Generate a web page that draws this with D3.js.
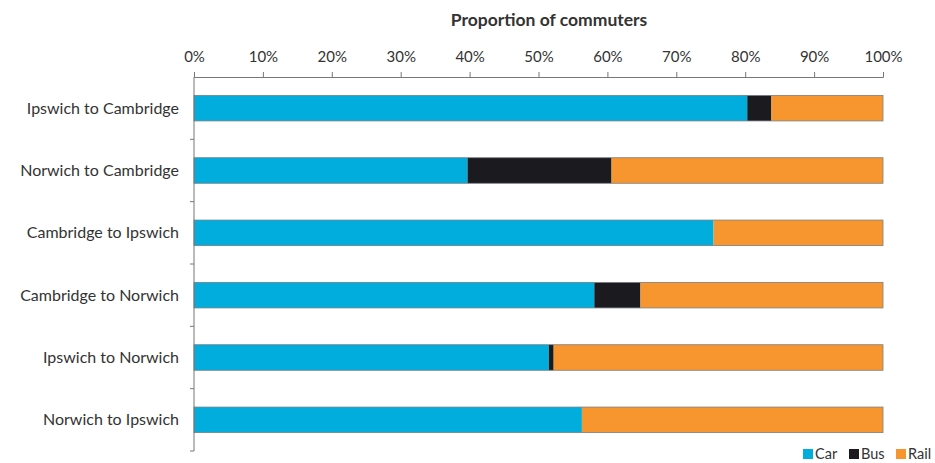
<!DOCTYPE html>
<html>
<head>
<meta charset="utf-8">
<script src="https://cdn.jsdelivr.net/npm/d3@7"></script>
<style>
  body { margin: 0; background: #fff; }
  text { font-family: Lato, 'Open Sans', sans-serif; fill: #333; }
</style>
</head>
<body>
<div id="chart"></div>
<script>
// Chart data
const routes = ['Ipswich to Cambridge', 'Norwich to Cambridge', 'Cambridge to Ipswich',
                'Cambridge to Norwich', 'Ipswich to Norwich', 'Norwich to Ipswich'];
const modes = ['Car', 'Bus', 'Rail'];
const carShare = [80.3, 39.7, 75.4, 58.1, 51.5, 56.3];
const busShare = [3.5, 20.9, 0, 6.7, 0.7, 0];
const railShare = [16.2, 39.4, 24.6, 35.2, 47.8, 43.7];
const tickValues = [0, 0.1, 0.2, 0.3, 0.4, 0.5, 0.6, 0.7, 0.8, 0.9, 1];

const width = 935, height = 463;
const margin = {top: 77, right: 52, bottom: 12, left: 194};
const colors = {Car: '#00addc', Bus: '#1b1b1f', Rail: '#f7962e'};

const rows = routes.map((r, i) => ({route: r, Car: carShare[i], Bus: busShare[i], Rail: railShare[i]}));
// normalise to proportions
rows.forEach(d => {
    const total = d.Car + d.Bus + d.Rail;
    modes.forEach(m => d[m] = d[m] / total);
});

const svg = d3.select('#chart')
    .append('svg')
    .attr('width', width)
    .attr('height', height);

const x = d3.scaleLinear()
    .domain([0, 1])
    .range([margin.left, width - margin.right]);

const y = d3.scaleBand()
    .domain(routes)
    .range([margin.top, height - margin.bottom])
    .paddingInner(0.59)
    .paddingOuter(0.295);

const stacked = d3.stack().keys(modes)(rows);

// Bars
svg.append('g')
    .selectAll('g')
    .data(stacked)
    .join('g')
    .attr('fill', d => colors[d.key])
    .selectAll('rect')
    .data(d => d)
    .join('rect')
    .attr('x', d => x(d[0]))
    .attr('y', d => y(d.data.route))
    .attr('width', d => x(d[1]) - x(d[0]))
    .attr('height', y.bandwidth());

// thin outline around each bar
svg.append('g')
    .selectAll('rect')
    .data(rows)
    .join('rect')
    .attr('x', x(0))
    .attr('y', d => y(d.route))
    .attr('width', x(1) - x(0))
    .attr('height', y.bandwidth())
    .attr('fill', 'none')
    .attr('stroke', '#7a7f86')
    .attr('stroke-width', 0.8);

// Top axis
const xAxis = svg.append('g')
    .attr('transform', `translate(0,${margin.top})`)
    .call(d3.axisTop(x).tickValues(tickValues).tickFormat(d3.format('.0%')).tickSize(5).tickPadding(10));
xAxis.select('.domain').attr('stroke', '#777');
xAxis.selectAll('.tick line').attr('stroke', '#777');
xAxis.selectAll('.tick text')
    .style('font-size', '15px')
    .attr('fill', '#333');

// Left axis, ticks between categories
const step = y.step();
const yTicks = d3.range(routes.length + 1).map(i => margin.top + i * step);
const yAxisG = svg.append('g');
yAxisG.append('line')
    .attr('x1', x(0)).attr('x2', x(0))
    .attr('y1', margin.top).attr('y2', height - margin.bottom)
    .attr('stroke', '#777');
yAxisG.selectAll('.ytick')
    .data(yTicks.slice(1))
    .join('line')
    .attr('class', 'ytick')
    .attr('x1', x(0) - 4).attr('x2', x(0))
    .attr('y1', d => d).attr('y2', d => d)
    .attr('stroke', '#777');

// Category labels
svg.append('g')
    .selectAll('text')
    .data(routes)
    .join('text')
    .attr('x', x(0) - 15)
    .attr('y', d => y(d) + y.bandwidth() / 2)
    .attr('dy', '0.35em')
    .attr('text-anchor', 'end')
    .style('font-size', '16px')
    .text(d => d);

// Title
svg.append('text')
    .attr('x', 549)
    .attr('y', 26)
    .attr('text-anchor', 'middle')
    .style('font-size', '17.5px')
    .style('font-weight', 'bold')
    .attr('fill', '#222')
    .text('Proportion of commuters');

// Legend
const legendX = [803, 849, 896];
const legend = svg.append('g')
    .selectAll('g')
    .data(modes)
    .join('g')
    .attr('transform', (d, i) => `translate(${legendX[i]},449)`);
legend.append('rect')
    .attr('width', 10)
    .attr('height', 10)
    .attr('fill', d => colors[d]);
legend.append('text')
    .attr('x', 12)
    .attr('y', 5)
    .attr('dy', '0.35em')
    .style('font-size', '14.5px')
    .text(d => d);
</script>
</body>
</html>
